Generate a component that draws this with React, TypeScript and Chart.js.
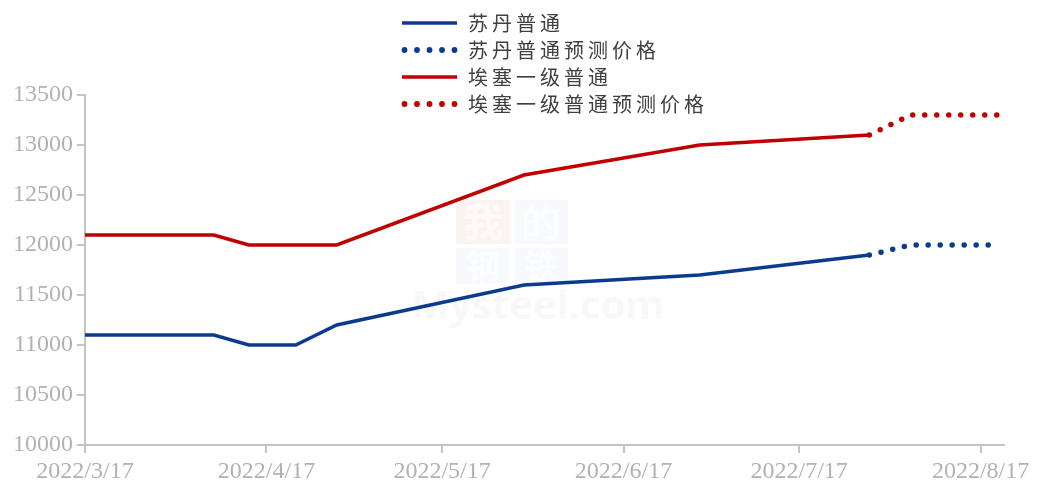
import React, { useEffect, useRef } from "react";
import { Chart, registerables } from "chart.js";

Chart.register(...registerables);

// ---- data ----
const actualDates = ["2022/3/17", "2022/4/8", "2022/4/14", "2022/4/22", "2022/4/29", "2022/5/31", "2022/6/30", "2022/7/29"];
const sudanValues = [11100, 11100, 11000, 11000, 11200, 11600, 11700, 11900];
const ethiopiaValues = [12100, 12100, 12000, 12000, 12000, 12700, 13000, 13100];

const forecastDates = ["2022/7/29", "2022/8/5", "2022/8/20"];
const sudanForecast = [11900, 12000, 12000];
const ethiopiaForecast = [13100, 13300, 13300];

const xTickLabels = ["2022/3/17", "2022/4/17", "2022/5/17", "2022/6/17", "2022/7/17", "2022/8/17"];
const xAxisStart = "2022/3/17";
const xAxisEnd = "2022/8/21";

const seriesLabels = ["苏丹普通", "苏丹普通预测价格", "埃塞一级普通", "埃塞一级普通预测价格"];

const BLUE = "#0b3b8c";
const RED = "#c00000";
const AXIS = "#c4c4c4";
const TICK_TEXT = "#b2b2b2";

function dayOffset(d: string): number {
  const [y, m, dd] = d.split("/").map(Number);
  const [y0, m0, d0] = xAxisStart.split("/").map(Number);
  return (Date.UTC(y, m - 1, dd) - Date.UTC(y0, m0 - 1, d0)) / 86400000;
}

function toPoints(dates: string[], vals: number[]) {
  return dates.map((d, i) => ({ x: dayOffset(d), y: vals[i] }));
}

const legendPlugin = {
  id: "customLegend",
  afterDraw(chart: any) {
    const ctx = chart.ctx;
    const ds = chart.data.datasets;
    const x0 = 402;
    const x1 = 457;
    const textX = 468;
    const rows = [23, 50, 77, 104];
    ctx.save();
    ds.forEach((d: any, i: number) => {
      const y = rows[i];
      ctx.strokeStyle = d.borderColor;
      ctx.fillStyle = d.borderColor;
      if (d.borderDash && d.borderDash.length) {
        for (let k = 0; k < 5; k++) {
          ctx.beginPath();
          ctx.arc(x0 + 2.5 + k * 12.5, y, 2.9, 0, Math.PI * 2);
          ctx.fill();
        }
      } else {
        ctx.lineWidth = 3.5;
        ctx.lineCap = "butt";
        ctx.beginPath();
        ctx.moveTo(x0, y);
        ctx.lineTo(x1, y);
        ctx.stroke();
      }
      ctx.fillStyle = "#404040";
      ctx.font = '20px "Noto Sans CJK SC"';
      (ctx as any).letterSpacing = "4px";
      ctx.textBaseline = "middle";
      ctx.textAlign = "left";
      ctx.fillText(d.label, textX, y);
    });
    ctx.restore();
  },
};

const watermarkPlugin = {
  id: "watermark",
  beforeDatasetsDraw(chart: any) {
    const ctx = chart.ctx;
    ctx.save();
    ctx.textAlign = "center";
    ctx.textBaseline = "middle";
    ctx.fillStyle = "rgba(200,0,0,0.05)";
    ctx.fillRect(456, 200, 54, 44);
    ctx.fillStyle = "rgba(60,90,160,0.035)";
    ctx.fillRect(514, 200, 54, 44);
    ctx.fillRect(456, 248, 54, 36);
    ctx.fillRect(514, 248, 54, 36);
    ctx.font = 'bold 40px "Noto Sans CJK SC"';
    ctx.fillStyle = "rgba(255,255,255,0.6)";
    ctx.fillText("我", 483, 222);
    ctx.fillText("的", 541, 222);
    ctx.font = 'bold 34px "Noto Sans CJK SC"';
    ctx.fillText("钢", 483, 266);
    ctx.fillText("铁", 541, 266);
    ctx.font = 'bold 40px "Open Sans"';
    ctx.fillStyle = "rgba(120,120,120,0.05)";
    ctx.fillText("Mysteel.com", 538, 308);
    ctx.restore();
  },
};

export default function App() {
  const ref = useRef<HTMLCanvasElement>(null);
  useEffect(() => {
    if (!ref.current) return;
    const xTickValues = xTickLabels.map(dayOffset);
    const chart = new Chart(ref.current, {
      type: "line",
      data: {
        datasets: [
          {
            label: seriesLabels[0],
            data: toPoints(actualDates, sudanValues),
            borderColor: BLUE,
            backgroundColor: BLUE,
            borderWidth: 3.5,
            pointRadius: 0,
            tension: 0,
          },
          {
            label: seriesLabels[1],
            data: toPoints(forecastDates, sudanForecast),
            borderColor: BLUE,
            backgroundColor: BLUE,
            borderWidth: 5.5,
            borderDash: [0, 12],
            borderCapStyle: "round",
            pointRadius: 0,
            tension: 0,
          },
          {
            label: seriesLabels[2],
            data: toPoints(actualDates, ethiopiaValues),
            borderColor: RED,
            backgroundColor: RED,
            borderWidth: 3.5,
            pointRadius: 0,
            tension: 0,
          },
          {
            label: seriesLabels[3],
            data: toPoints(forecastDates, ethiopiaForecast),
            borderColor: RED,
            backgroundColor: RED,
            borderWidth: 5.5,
            borderDash: [0, 12],
            borderCapStyle: "round",
            pointRadius: 0,
            tension: 0,
          },
        ],
      },
      options: {
        responsive: false,
        animation: false,
        layout: { padding: { left: 0, right: 38, top: 95, bottom: 0 } },
        plugins: {
          legend: { display: false },
          tooltip: { enabled: false },
        },
        scales: {
          x: {
            type: "linear",
            min: 0,
            max: dayOffset(xAxisEnd),
            afterBuildTicks: (scale: any) => {
              scale.ticks = xTickValues.map((v) => ({ value: v }));
            },
            afterFit: (scale: any) => {
              scale.height = 42;
            },
            grid: {
              display: true,
              drawOnChartArea: false,
              drawTicks: true,
              tickLength: 8,
              color: AXIS,
              lineWidth: 2,
            },
            border: { display: true, color: AXIS, width: 2 },
            ticks: {
              autoSkip: false,
              maxRotation: 0,
              padding: 4,
              color: TICK_TEXT,
              font: { family: '"Liberation Serif"', size: 24 },
              callback: (_v: any, i: number) => xTickLabels[i],
            },
          },
          y: {
            min: 10000,
            max: 13500,
            afterFit: (scale: any) => {
              scale.width = 85;
            },
            grid: {
              display: true,
              drawOnChartArea: false,
              drawTicks: true,
              tickLength: 8,
              color: AXIS,
              lineWidth: 2,
            },
            border: { display: true, color: AXIS, width: 2 },
            ticks: {
              stepSize: 500,
              padding: 4,
              color: TICK_TEXT,
              font: { family: '"Liberation Serif"', size: 24 },
              callback: (v: any) => String(v),
            },
          },
        },
      },
      plugins: [watermarkPlugin, legendPlugin],
    } as any);
    return () => chart.destroy();
  }, []);
  return (
    <div style={{ position: "absolute", left: 0, top: 0, width: 1042, height: 487, background: "#fff" }}>
      <canvas ref={ref} width={1042} height={487} />
    </div>
  );
}
